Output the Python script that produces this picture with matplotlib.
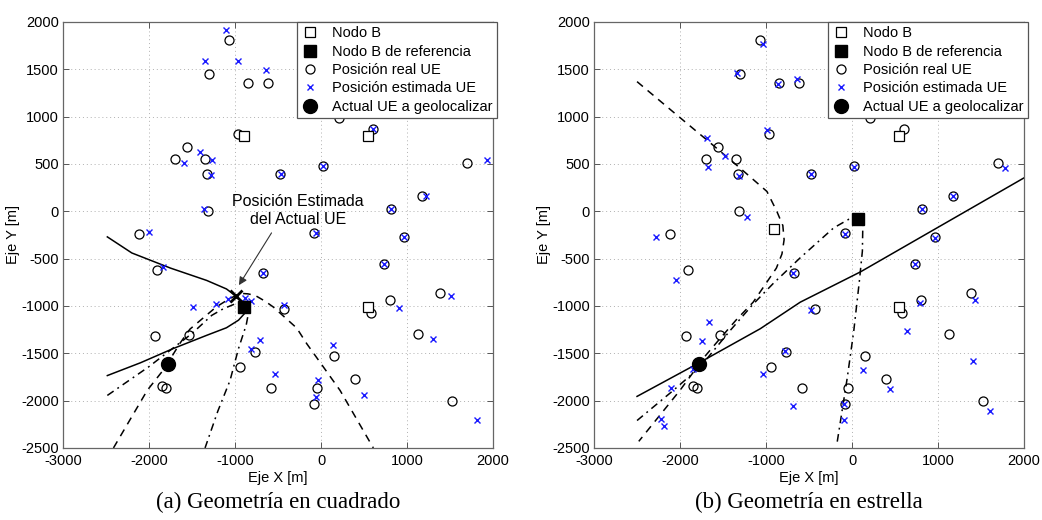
import matplotlib
matplotlib.use("Agg")
import matplotlib.pyplot as plt  # noqa: E402

plt.rcParams["font.family"] = ["Liberation Sans", "DejaVu Sans"]
plt.rcParams["axes.unicode_minus"] = False

# posiciones reales de los UE (iguales en ambas geometrías)
ue_x = [-1070, -1300, -855, -615, -960, -1560, -1700, -1350, -1330, -1320, -2120,
        205, 600, 1697, 27, -475, 1168, 812, -80, 962, 730, -680, 1386, 796, 578,
        -430, 1127, -766, -940, 150, 400, -582, -43, -85, 1527, -1910, -1935, -1540,
        -1855, -1800]
ue_y = [1805, 1455, 1355, 1360, 820, 683, 555, 557, 395, 0, -240,
        990, 866, 506, 475, 394, 165, 29, -234, -276, -554, -652, -866, -940, -1078,
        -1032, -1292, -1481, -1645, -1530, -1776, -1866, -1868, -2040, -2001, -620, -1318, -1303,
        -1840, -1865]

ue_actual = (-1775, -1610)

# (a) cuadrado
nodos_a_x = [-895, 548, 548]
nodos_a_y = [795, 796, -1012]
ref_a = (-897, -1015)
est_actual_a = (-992, -896)
est_a_x = [-1100, -1350, -970, -640, -880, -1597, -1411, -1267, -1279, -1360, -2005,
           605, 1926, 27, -469, 1220, 814, -58, 965, 733, -672, 1508, 907, 560,
           -432, 1306, -711, -812, 136, -533, -39, -54, 504, 1814, -880, -817,
           -1839, -1492, -1219, -1087]
est_a_y = [1920, 1590, 1590, 1490, 800, 515, 624, 539, 384, 20, -217,
           870, 539, 476, 395, 165, 29, -229, -271, -553, -650, -895, -1018, -1010,
           -988, -1346, -1356, -1459, -1416, -1716, -1786, -1959, -1945, -2209, -912, -950,
           -589, -1011, -976, -925]

hip_a1_x = [-2485, -2200, -1750, -1330, -1100, -990, -920, -878, -890, -960, -1100, -1330, -1720, -2100, -2485]
hip_a1_y = [-270, -440, -600, -730, -820, -895, -950, -1010, -1080, -1150, -1230, -1310, -1450, -1600, -1735]
hip_a2_x = [-2414, -2020, -1820, -1645, -1525, -1220, -1060, -960, -907, -850, -767, -650, -555,
            -283, -166, 0, 221, 608]
hip_a2_y = [-2500, -1890, -1660, -1400, -1245, -1011, -920, -878, -868, -872, -888, -950, -1011,
            -1233, -1399, -1610, -1892, -2500]
hip_a3_x = [-2485, -2000, -1500, -1271, -1136, -1000, -900, -855, -835, -870, -960, -1058, -1200, -1349]
hip_a3_y = [-1945, -1640, -1290, -1099, -1029, -978, -945, -960, -1030, -1200, -1450, -1786, -2110, -2500]

# (b) estrella
nodos_b_x = [-905, 545, 545]
nodos_b_y = [-186, 795, -1012]
ref_b = (65, -85)
est_b_x = [-1035, -1333, -858, -641, -991, -1690, -1477, -1671, -1313, -1224, -2285,
           524, 1775, -478, 27, 1172, 811, -86, 959, 726, -688, 1425, 788, 641,
           -478, 1406, -785, -1030, 128, 446, -692, -90, -98, 1604, -2044, -1669,
           -1748, -1853, -2103, -2226, -2188]
est_b_y = [1770, 1465, 1350, 1402, 862, 771, 585, 473, 368, -58, -273,
           799, 455, 392, 473, 158, 28, -235, -281, -554, -655, -932, -971, -1262,
           -1044, -1580, -1479, -1720, -1675, -1879, -2054, -2040, -2200, -2110, -724, -1171,
           -1374, -1665, -1868, -2194, -2268]

hip_b1_x = [-2500, -1768, -1067, -603, 97, 796, 1995]
hip_b1_y = [-1955, -1595, -1240, -960, -640, -275, 351]
hip_b2_x = [-2500, -2080, -1690, -1300, -990, -875, -805, -790, -815, -880, -1000, -1150, -1350,
            -1550, -1700, -2000, -2480]
hip_b2_y = [1370, 1050, 755, 455, 210, 0, -150, -300, -450, -600, -760, -960, -1150,
            -1360, -1520, -1890, -2430]
hip_b3_x = [-2500, -2080, -1770, -1420, -1150, -914, -603, -214, -40, 60, 125, 120, 85, 20, -55, -175]
hip_b3_y = [-2210, -1893, -1648, -1262, -980, -760, -491, -175, -85, -65, -150, -420, -736, -1262,
            -1753, -2450]

ticks_x = [-3000, -2000, -1000, 0, 1000, 2000]
ticks_y = [-2500, -2000, -1500, -1000, -500, 0, 500, 1000, 1500, 2000]


def panel(ax, nodos_x, nodos_y, ref, est_x, est_y, hips):
    ax.plot(nodos_x, nodos_y, "s", ms=7.5, mfc="white", mec="k", mew=0.9, ls="none",
            label="Nodo B", zorder=4)
    ax.plot([ref[0]], [ref[1]], "s", ms=8, color="k", ls="none",
            label="Nodo B de referencia", zorder=5)
    ax.plot(ue_x, ue_y, "o", ms=6.5, mfc="none", mec="k", mew=0.9, ls="none",
            label="Posición real UE", zorder=3)
    ax.plot(est_x, est_y, "x", ms=4, color="#1a1aff", mew=1.0, ls="none",
            label="Posición estimada UE", zorder=3)
    ax.plot([ue_actual[0]], [ue_actual[1]], "o", ms=10, color="k", ls="none",
            label="Actual UE a geolocalizar", zorder=5)
    for (hx, hy), ls in zip(hips, ["-", (0, (5, 4)), (0, (5, 3, 1.2, 3))]):
        ax.plot(hx, hy, color="k", lw=1.1, ls=ls, zorder=2)

    ax.set_xlim(-3000, 2000)
    ax.set_ylim(-2500, 2000)
    ax.set_xticks(ticks_x)
    ax.set_yticks(ticks_y)
    ax.grid(True, ls=(0, (1, 3)), color="#b0b0b0", lw=0.7)
    ax.tick_params(direction="in", top=True, right=True, length=4, width=0.7,
                   labelsize=10.5, pad=3, color="#555555")
    ax.tick_params(axis="x", pad=4.5)
    for s in ax.spines.values():
        s.set_color("#666666")
        s.set_linewidth(0.9)
    ax.set_xlabel("Eje X [m]", fontsize=10.5, labelpad=2)
    ax.set_ylabel("Eje Y [m]", fontsize=10.5)
    ax.yaxis.set_label_coords(-0.1, 0.5)
    leg = ax.legend(loc="upper right", bbox_to_anchor=(1.008, 1.0), borderaxespad=0,
                    fontsize=10.5, frameon=True, fancybox=False, framealpha=1,
                    handlelength=1.2, handletextpad=0.9, labelspacing=0.3,
                    borderpad=0.3, numpoints=1)
    leg.get_frame().set_edgecolor("#555555")
    leg.get_frame().set_linewidth(0.9)


fig = plt.figure(figsize=(10.42, 5.2), dpi=100)
ax1 = fig.add_axes([0.0605, 0.1385, 0.4127, 0.8192])
ax2 = fig.add_axes([0.5701, 0.1385, 0.4127, 0.8192])

panel(ax1, nodos_a_x, nodos_a_y, ref_a, est_a_x, est_a_y,
      [(hip_a1_x, hip_a1_y), (hip_a2_x, hip_a2_y), (hip_a3_x, hip_a3_y)])
ax1.plot([est_actual_a[0]], [est_actual_a[1]], "x", ms=9, color="k", mew=2, zorder=6)
ax1.annotate("Posición Estimada\ndel Actual UE", xy=(-955, -780), xytext=(-270, 10),
             textcoords="data", ha="center", va="center", fontsize=11.5,
             arrowprops=dict(arrowstyle="-|>", color="#333333", lw=0.8,
                             mutation_scale=12, relpos=(0.33, 0.0), shrinkA=3, shrinkB=0))

panel(ax2, nodos_b_x, nodos_b_y, ref_b, est_b_x, est_b_y,
      [(hip_b1_x, hip_b1_y), (hip_b2_x, hip_b2_y), (hip_b3_x, hip_b3_y)])

fig.text(0.267, 0.034, "(a) Geometría en cuadrado", ha="center", va="center",
         fontsize=16.5, family=["Liberation Serif", "DejaVu Serif"])
fig.text(0.776, 0.034, "(b) Geometría en estrella", ha="center", va="center",
         fontsize=16.5, family=["Liberation Serif", "DejaVu Serif"])

fig.savefig("out.png", dpi=100)
plt.close(fig)
